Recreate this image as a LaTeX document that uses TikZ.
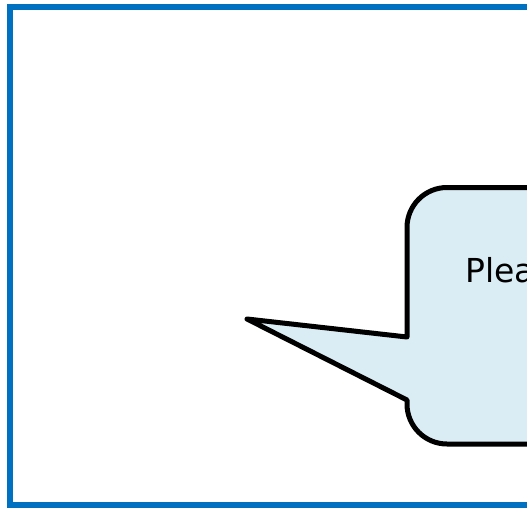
\documentclass[tikz,border=0pt]{standalone}
\usepackage{fontspec}
\setmainfont{DejaVu Sans}
\usetikzlibrary{positioning}

\definecolor{frameblue}{RGB}{0,112,192}
\definecolor{bubblefill}{RGB}{219,237,244}

\begin{document}
\begin{tikzpicture}[x=1pt, y=1pt,
    frame/.style={draw=frameblue, line width=6pt},
    bubble/.style={draw=black, fill=bubblefill, line width=5pt, line join=round}]
    \useasboundingbox (0,0) rectangle (527,507);
    % outer frame
    \draw [frame] (10,2.5) rectangle (560,500);
    % speech bubble
    \draw [bubble] (407,170) -- (407,279.5) arc[start angle=180, end angle=90, radius=40]
      -- (620,319.5) -- (620,63) -- (447,63) arc[start angle=270, end angle=180, radius=40]
      -- (407,107) -- (247,188) -- cycle;
    \node [anchor=base west, inner sep=0pt, font=\fontsize{33}{40}\selectfont] (msg) at (465,225) {Plea};
  \end{tikzpicture}
\end{document}
